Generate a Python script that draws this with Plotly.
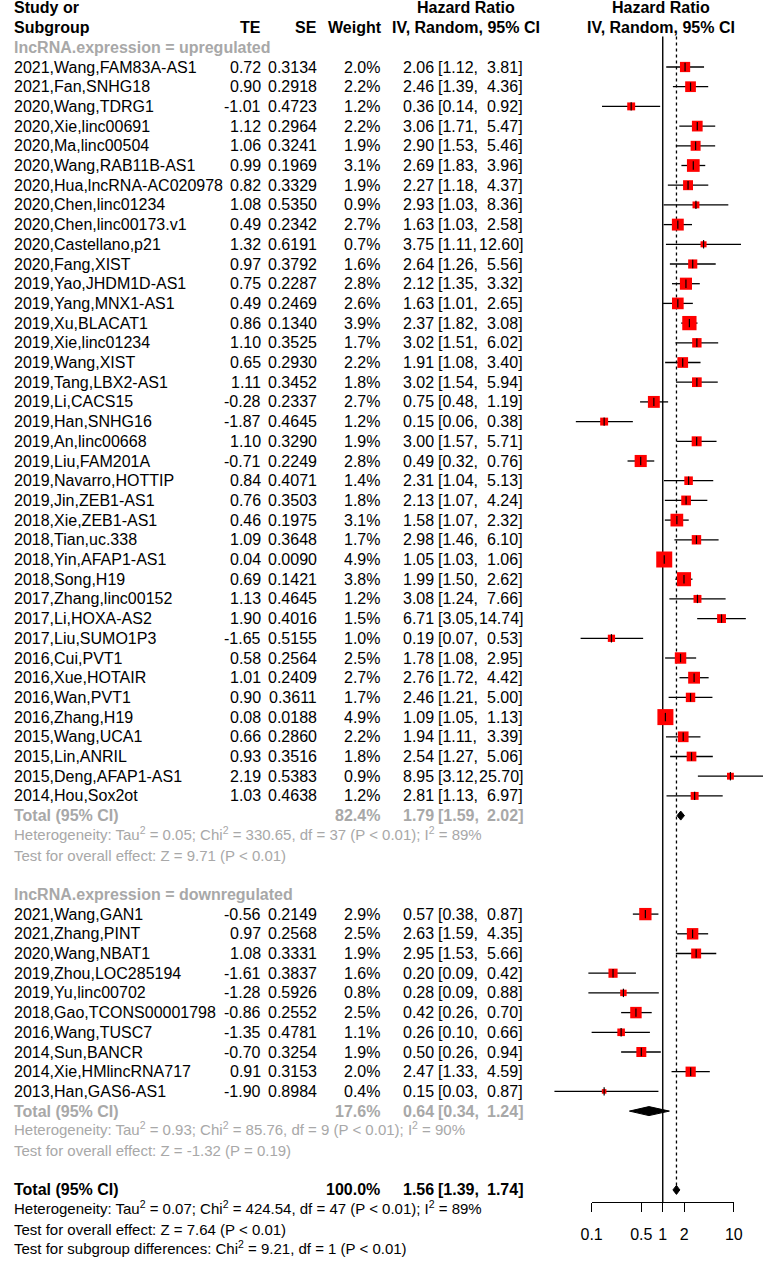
import math
import plotly.graph_objects as go

# ---- data ----
up_study = ["2021,Wang,FAM83A-AS1", "2021,Fan,SNHG18", "2020,Wang,TDRG1", "2020,Xie,linc00691",
            "2020,Ma,linc00504", "2020,Wang,RAB11B-AS1", "2020,Hua,lncRNA-AC020978", "2020,Chen,linc01234",
            "2020,Chen,linc00173.v1", "2020,Castellano,p21", "2020,Fang,XIST", "2019,Yao,JHDM1D-AS1",
            "2019,Yang,MNX1-AS1", "2019,Xu,BLACAT1", "2019,Xie,linc01234", "2019,Wang,XIST",
            "2019,Tang,LBX2-AS1", "2019,Li,CACS15", "2019,Han,SNHG16", "2019,An,linc00668",
            "2019,Liu,FAM201A", "2019,Navarro,HOTTIP", "2019,Jin,ZEB1-AS1", "2018,Xie,ZEB1-AS1",
            "2018,Tian,uc.338", "2018,Yin,AFAP1-AS1", "2018,Song,H19", "2017,Zhang,linc00152",
            "2017,Li,HOXA-AS2", "2017,Liu,SUMO1P3", "2016,Cui,PVT1", "2016,Xue,HOTAIR",
            "2016,Wan,PVT1", "2016,Zhang,H19", "2015,Wang,UCA1", "2015,Lin,ANRIL",
            "2015,Deng,AFAP1-AS1", "2014,Hou,Sox2ot"]
up_te = [0.72, 0.90, -1.01, 1.12, 1.06, 0.99, 0.82, 1.08, 0.49, 1.32, 0.97, 0.75, 0.49, 0.86, 1.10, 0.65,
         1.11, -0.28, -1.87, 1.10, -0.71, 0.84, 0.76, 0.46, 1.09, 0.04, 0.69, 1.13, 1.90, -1.65, 0.58, 1.01,
         0.90, 0.08, 0.66, 0.93, 2.19, 1.03]
up_se = [0.3134, 0.2918, 0.4723, 0.2964, 0.3241, 0.1969, 0.3329, 0.5350, 0.2342, 0.6191, 0.3792, 0.2287,
         0.2469, 0.1340, 0.3525, 0.2930, 0.3452, 0.2337, 0.4645, 0.3290, 0.2249, 0.4071, 0.3503, 0.1975,
         0.3648, 0.0090, 0.1421, 0.4645, 0.4016, 0.5155, 0.2564, 0.2409, 0.3611, 0.0188, 0.2860, 0.3516,
         0.5383, 0.4638]
up_w = [2.0, 2.2, 1.2, 2.2, 1.9, 3.1, 1.9, 0.9, 2.7, 0.7, 1.6, 2.8, 2.6, 3.9, 1.7, 2.2, 1.8, 2.7, 1.2, 1.9,
        2.8, 1.4, 1.8, 3.1, 1.7, 4.9, 3.8, 1.2, 1.5, 1.0, 2.5, 2.7, 1.7, 4.9, 2.2, 1.8, 0.9, 1.2]
up_hr = [2.06, 2.46, 0.36, 3.06, 2.90, 2.69, 2.27, 2.93, 1.63, 3.75, 2.64, 2.12, 1.63, 2.37, 3.02, 1.91,
         3.02, 0.75, 0.15, 3.00, 0.49, 2.31, 2.13, 1.58, 2.98, 1.05, 1.99, 3.08, 6.71, 0.19, 1.78, 2.76,
         2.46, 1.09, 1.94, 2.54, 8.95, 2.81]
up_lo = [1.12, 1.39, 0.14, 1.71, 1.53, 1.83, 1.18, 1.03, 1.03, 1.11, 1.26, 1.35, 1.01, 1.82, 1.51, 1.08,
         1.54, 0.48, 0.06, 1.57, 0.32, 1.04, 1.07, 1.07, 1.46, 1.03, 1.50, 1.24, 3.05, 0.07, 1.08, 1.72,
         1.21, 1.05, 1.11, 1.27, 3.12, 1.13]
up_hi = [3.81, 4.36, 0.92, 5.47, 5.46, 3.96, 4.37, 8.36, 2.58, 12.60, 5.56, 3.32, 2.65, 3.08, 6.02, 3.40,
         5.94, 1.19, 0.38, 5.71, 0.76, 5.13, 4.24, 2.32, 6.10, 1.06, 2.62, 7.66, 14.74, 0.53, 2.95, 4.42,
         5.00, 1.13, 3.39, 5.06, 25.70, 6.97]

down_study = ["2021,Wang,GAN1", "2021,Zhang,PINT", "2020,Wang,NBAT1", "2019,Zhou,LOC285194",
              "2019,Yu,linc00702", "2018,Gao,TCONS00001798", "2016,Wang,TUSC7", "2014,Sun,BANCR",
              "2014,Xie,HMlincRNA717", "2013,Han,GAS6-AS1"]
down_te = [-0.56, 0.97, 1.08, -1.61, -1.28, -0.86, -1.35, -0.70, 0.91, -1.90]
down_se = [0.2149, 0.2568, 0.3331, 0.3837, 0.5926, 0.2552, 0.4781, 0.3254, 0.3153, 0.8984]
down_w = [2.9, 2.5, 1.9, 1.6, 0.8, 2.5, 1.1, 1.9, 2.0, 0.4]
down_hr = [0.57, 2.63, 2.95, 0.20, 0.28, 0.42, 0.26, 0.50, 2.47, 0.15]
down_lo = [0.38, 1.59, 1.53, 0.09, 0.09, 0.26, 0.10, 0.26, 1.33, 0.03]
down_hi = [0.87, 4.35, 5.66, 0.42, 0.88, 0.70, 0.66, 0.94, 4.59, 0.87]

# pooled results: [weight, hr, lo, hi]
up_total = [82.4, 1.79, 1.59, 2.02]
down_total = [17.6, 0.64, 0.34, 1.24]
all_total = [100.0, 1.56, 1.39, 1.74]

up_het = ["0.05", "330.65", "37", "P &lt; 0.01", "89%"]
down_het = ["0.93", "85.76", "9", "P &lt; 0.01", "90%"]
all_het = ["0.07", "424.54", "47", "P &lt; 0.01", "89%"]
up_z = "Z = 9.71 (P &lt; 0.01)"
down_z = "Z = -1.32 (P = 0.19)"
all_z = "Z = 7.64 (P &lt; 0.01)"
subgroup_test = "Chi<sup>2</sup> = 9.21, df = 1 (P &lt; 0.01)"

axis_ticks = [0.1, 0.5, 1, 2, 10]
axis_labels = ["0.1", "0.5", "1", "2", "10"]

# ---- layout helpers ----
W, H = 775, 1263
TOP, PITCH = 67, 19.7          # y of first study row (px), row pitch
GRAY = "#A8A8A8"
FONT = "Liberation Sans, Arial, sans-serif"
FS = 16
FS_SMALL = 15
X01, X10 = 596, 742            # x of 0.1 and 10
DEC = (X10 - X01) / 2.0
AXIS_Y = 1202

up_rows = list(range(len(up_study)))
r_up_total = len(up_study)
r_down_head = r_up_total + 4
down_rows = [r_down_head + 1 + i for i in range(len(down_study))]
r_down_total = down_rows[-1] + 1
r_all_total = r_down_total + 4

annotations = []

def txt(xpx, row, s, anchor="left", bold=False, color="black", size=FS, dy=0):
    if bold:
        s = "<b>" + s + "</b>"
    annotations.append(dict(x=xpx / W, y=row, xref="paper", yref="y", text=s, showarrow=False,
                            xanchor=anchor, yanchor="middle", align=anchor, yshift=dy, borderpad=0,
                            font=dict(family=FONT, size=size, color=color)))

def hr_cols(row, hr, lo, hi, bold=False, color="black"):
    txt(435, row, f"{hr:.2f}", "right", bold, color)
    txt(437, row, f"[{lo:.2f},", "left", bold, color)
    txt(527, row, f"{hi:.2f}]", "right", bold, color)

# headers
txt(2, -3, "Study or", bold=True)
txt(2, -2, "Subgroup", bold=True)
txt(258, -2, "TE", "right", True)
txt(315, -2, "SE", "right", True)
txt(382, -2, "Weight", "right", True)
txt(467, -3, "Hazard Ratio", "center", True)
txt(467, -2, "IV, Random, 95% CI", "center", True)
txt(667, -3, "Hazard Ratio", "center", True)
txt(667, -2, "IV, Random, 95% CI", "center", True)

def study_block(rows, names, te, se, w, hr, lo, hi):
    for r, n, a, b, c, d, e, f in zip(rows, names, te, se, w, hr, lo, hi):
        txt(2, r, n)
        txt(258, r, f"{a:.2f}", "right")
        txt(315, r, f"{b:.4f}", "right")
        txt(380, r, f"{c:.1f}%", "right")
        hr_cols(r, d, e, f)

def het_text(vals):
    return ("Heterogeneity: Tau<sup>2</sup> = %s; Chi<sup>2</sup> = %s, df = %s (%s); I<sup>2</sup> = %s"
            % tuple(vals))

txt(2, -1, "lncRNA.expression = upregulated", bold=True, color=GRAY)
study_block(up_rows, up_study, up_te, up_se, up_w, up_hr, up_lo, up_hi)
txt(2, r_up_total, "Total (95% CI)", bold=True, color=GRAY)
txt(380, r_up_total, f"{up_total[0]:.1f}%", "right", True, GRAY)
hr_cols(r_up_total, *up_total[1:], bold=True, color=GRAY)
txt(2, r_up_total + 1, het_text(up_het), color=GRAY, size=FS_SMALL, dy=2)
txt(2, r_up_total + 2, "Test for overall effect: " + up_z, color=GRAY, size=FS_SMALL)

txt(2, r_down_head, "lncRNA.expression = downregulated", bold=True, color=GRAY)
study_block(down_rows, down_study, down_te, down_se, down_w, down_hr, down_lo, down_hi)
txt(2, r_down_total, "Total (95% CI)", bold=True, color=GRAY)
txt(380, r_down_total, f"{down_total[0]:.1f}%", "right", True, GRAY)
hr_cols(r_down_total, *down_total[1:], bold=True, color=GRAY)
txt(2, r_down_total + 1, het_text(down_het), color=GRAY, size=FS_SMALL, dy=2)
txt(2, r_down_total + 2, "Test for overall effect: " + down_z, color=GRAY, size=FS_SMALL)

txt(2, r_all_total, "Total (95% CI)", bold=True)
txt(380, r_all_total, f"{all_total[0]:.1f}%", "right", True)
hr_cols(r_all_total, *all_total[1:], bold=True)
txt(2, r_all_total + 1, het_text(all_het), size=FS_SMALL, dy=2)
txt(2, r_all_total + 2, "Test for overall effect: " + all_z, size=FS_SMALL)
txt(2, r_all_total + 3, "Test for subgroup differences: " + subgroup_test, size=FS_SMALL, dy=2)

# ---- marks ----
rows = up_rows + down_rows
hrs = up_hr + down_hr
los = up_lo + down_lo
his = up_hi + down_hi
wts = up_w + down_w

fig = go.Figure()

axis_row = (AXIS_Y - TOP) / PITCH
half = 4.5 / PITCH

# reference lines (no effect, overall estimate)
fig.add_trace(go.Scatter(x=[1, 1], y=[-1.55, axis_row], mode="lines",
                         line=dict(color="black", width=1.4), hoverinfo="skip"))
fig.add_trace(go.Scatter(x=[all_total[1], all_total[1]], y=[-1.55, r_all_total - half], mode="lines",
                         line=dict(color="black", width=1.3, dash="dot"), hoverinfo="skip"))

ci_x, ci_y = [], []
for r, lo, hi in zip(rows, los, his):
    ci_x += [lo, hi, None]
    ci_y += [r, r, None]
fig.add_trace(go.Scatter(x=ci_x, y=ci_y, mode="lines", line=dict(color="black", width=1.3),
                         hoverinfo="skip"))

fig.add_trace(go.Scatter(x=hrs, y=rows, mode="markers",
                         marker=dict(symbol="square", color="#FF0000", opacity=1,
                                     size=[7.23 * math.sqrt(w) for w in wts], line=dict(width=0))))
fig.add_trace(go.Scatter(x=hrs, y=rows, mode="markers",
                         marker=dict(symbol="line-ns", size=6, opacity=1,
                                     line=dict(color="black", width=1.2))))

for r, tot in [(r_up_total, up_total), (r_down_total, down_total), (r_all_total, all_total)]:
    _, est, lo, hi = tot
    fig.add_trace(go.Scatter(x=[lo, est, hi, est, lo], y=[r, r - half, r, r + half, r],
                             mode="lines", fill="toself", fillcolor="black",
                             line=dict(color="black", width=1)))

# invisible carrier so the bottom scale axis is drawn
fig.add_trace(go.Scatter(x=axis_ticks, y=[axis_row] * len(axis_ticks), mode="markers",
                         marker=dict(opacity=0), xaxis="x2", hoverinfo="skip"))

fig.update_layout(
    width=W, height=H, margin=dict(l=0, r=0, t=0, b=0),
    paper_bgcolor="white", plot_bgcolor="rgba(0,0,0,0)", showlegend=False,
    annotations=annotations,
    xaxis=dict(type="log", domain=[0, 1], range=[-1 - X01 / DEC, 1 + (W - X10) / DEC],
               visible=False, fixedrange=True),
    xaxis2=dict(type="log", domain=[X01 / W, X10 / W], range=[-1, 1], anchor="free",
                position=1 - AXIS_Y / H, tickvals=axis_ticks, ticktext=axis_labels,
                ticks="outside", ticklen=9, tickwidth=1.3, tickcolor="black",
                showline=True, linecolor="black", linewidth=1.3, showgrid=False, zeroline=False,
                tickfont=dict(family=FONT, size=FS, color="black"), ticklabelstandoff=9),
    yaxis=dict(range=[(H - TOP) / PITCH, -TOP / PITCH], domain=[0, 1], visible=False, fixedrange=True),
)

# the page body has a default 8px margin; drop it so the figure sits at the window corner
fig.write_html("out.html", config={"displayModeBar": False},
               post_script="document.body.style.margin = '0';")
